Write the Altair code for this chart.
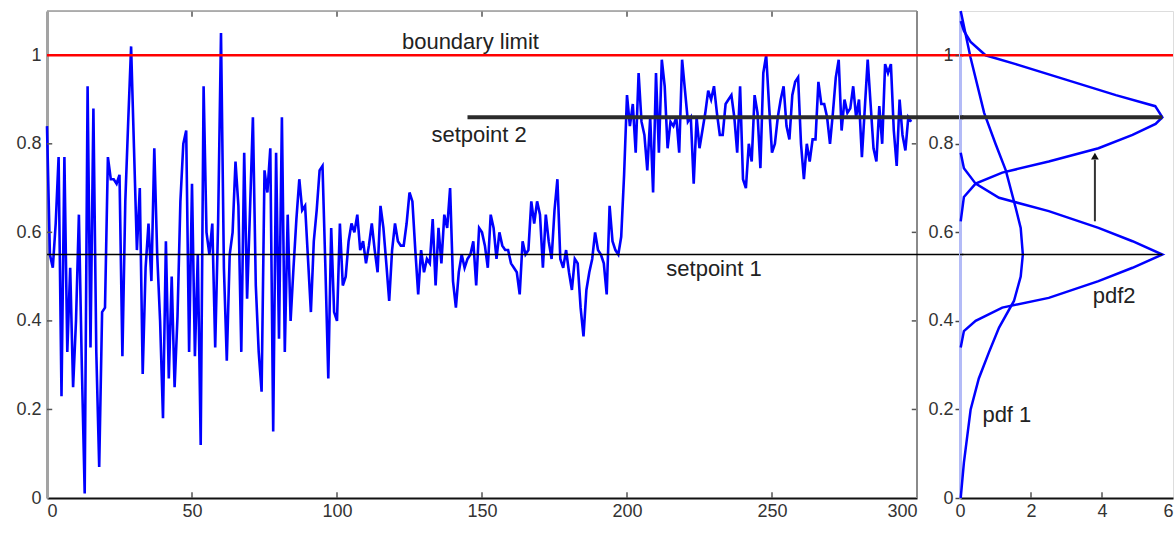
import altair as alt
import pandas as pd

# ---------------- data ----------------
SERIES = [
    0.84, 0.55, 0.52, 0.62, 0.77, 0.23, 0.77, 0.33, 0.52, 0.25,
    0.40, 0.64, 0.30, 0.01, 0.93, 0.34, 0.88, 0.33, 0.07, 0.42,
    0.43, 0.77, 0.72, 0.72, 0.71, 0.73, 0.32, 0.67, 0.85, 1.02,
    0.79, 0.56, 0.70, 0.28, 0.52, 0.62, 0.49, 0.79, 0.55, 0.40,
    0.18, 0.58, 0.27, 0.50, 0.25, 0.41, 0.67, 0.80, 0.83, 0.33,
    0.71, 0.32, 0.55, 0.12, 0.93, 0.60, 0.55, 0.62, 0.34, 0.62,
    1.05, 0.52, 0.31, 0.55, 0.60, 0.76, 0.66, 0.33, 0.78, 0.45,
    0.65, 0.86, 0.48, 0.33, 0.24, 0.74, 0.69, 0.79, 0.15, 0.78,
    0.36, 0.86, 0.33, 0.64, 0.40, 0.52, 0.63, 0.72, 0.65, 0.66,
    0.54, 0.42, 0.58, 0.65, 0.74, 0.75, 0.52, 0.27, 0.61, 0.42,
    0.40, 0.62, 0.48, 0.50, 0.58, 0.62, 0.60, 0.64, 0.56, 0.58,
    0.53, 0.57, 0.62, 0.56, 0.51, 0.66, 0.61, 0.53, 0.445, 0.56,
    0.62, 0.58, 0.57, 0.57, 0.62, 0.69, 0.67, 0.56, 0.46, 0.56,
    0.51, 0.54, 0.53, 0.63, 0.48, 0.61, 0.53, 0.64, 0.61, 0.70,
    0.49, 0.43, 0.51, 0.55, 0.52, 0.54, 0.55, 0.58, 0.48, 0.61,
    0.60, 0.57, 0.52, 0.64, 0.61, 0.54, 0.60, 0.57, 0.56, 0.56,
    0.53, 0.52, 0.51, 0.46, 0.58, 0.55, 0.56, 0.67, 0.62, 0.67,
    0.64, 0.52, 0.64, 0.58, 0.54, 0.65, 0.72, 0.54, 0.52, 0.56,
    0.51, 0.47, 0.54, 0.53, 0.43, 0.365, 0.47, 0.51, 0.54, 0.60,
    0.56, 0.55, 0.53, 0.46, 0.66, 0.58, 0.56, 0.55, 0.59, 0.73,
    0.91, 0.84, 0.89, 0.78, 0.96, 0.85, 0.82, 0.74, 0.86, 0.69,
    0.96, 0.78, 0.99, 0.93, 0.79, 0.85, 0.84, 0.86, 0.78, 0.99,
    0.92, 0.85, 0.86, 0.71, 0.86, 0.79, 0.83, 0.87, 0.92, 0.90,
    0.93, 0.87, 0.82, 0.82, 0.89, 0.90, 0.91, 0.86, 0.78, 0.93,
    0.72, 0.70, 0.80, 0.76, 0.91, 0.87, 0.745, 0.96, 1.00, 0.885,
    0.78, 0.80, 0.86, 0.90, 0.93, 0.84, 0.81, 0.91, 0.94, 0.95,
    0.80, 0.72, 0.80, 0.76, 0.81, 0.81, 0.94, 0.89, 0.89, 0.86,
    0.80, 0.87, 0.95, 0.99, 0.83, 0.90, 0.87, 0.88, 0.93, 0.86,
    0.90, 0.77, 0.88, 0.99, 0.89, 0.79, 0.76, 0.885, 0.80, 0.98,
    0.96, 0.98, 0.83, 0.75, 0.90, 0.82, 0.785, 0.86, 0.85,
]

# wide pdf (pdf 1) around setpoint 1
PDF1_X = [0.02, 0.11, 0.30, 0.53, 0.82, 1.10, 1.52, 1.71, 1.77, 1.71, 1.57, 1.29, 1.00, 0.68, 0.30, 0.16, 0.02]
PDF1_Y = [0.00, 0.08, 0.20, 0.27, 0.33, 0.385, 0.445, 0.50, 0.55, 0.61, 0.655, 0.74, 0.80, 0.87, 0.994, 1.047, 1.10]
# narrow pdf (pdf2) around setpoint 1
PDF2_X = [0.02, 0.11, 0.44, 1.19, 2.50, 3.90, 4.86, 5.70, 4.86, 3.90, 2.50, 1.10, 0.44, 0.11, 0.02]
PDF2_Y = [0.34, 0.377, 0.40, 0.43, 0.452, 0.49, 0.52, 0.55, 0.58, 0.61, 0.648, 0.678, 0.71, 0.745, 0.78]
# narrow pdf shifted to setpoint 2
PDF3_X = [0.02, 0.11, 0.44, 1.19, 2.50, 3.90, 4.86, 5.51, 5.70, 5.50, 4.39, 2.98, 1.57, 0.72, 0.30, 0.11, 0.02]
PDF3_Y = [0.625, 0.68, 0.71, 0.735, 0.76, 0.79, 0.82, 0.845, 0.86, 0.885, 0.91, 0.945, 0.98, 1.00, 1.03, 1.055, 1.077]

X_TICKS_LEFT = [0, 50, 100, 150, 200, 250, 300]
X_TICKS_RIGHT = [0, 2, 4, 6]
Y_TICKS = [0, 0.2, 0.4, 0.6, 0.8, 1]

BOUNDARY = 1.0
SETPOINT1 = 0.55
SETPOINT2 = 0.86
SETPOINT2_START = 145
PDF_PEAK = 5.7
ARROW_X = 3.8
ARROW_FROM = 0.625
ARROW_TO = 0.772

LEFT_NOTES = ["boundary limit", "setpoint 2", "setpoint 1"]
LEFT_NOTE_T = [146, 149, 230]
LEFT_NOTE_V = [1.03, 0.82, 0.517]
RIGHT_NOTES = ["pdf2", "pdf 1"]
RIGHT_NOTE_X = [4.34, 1.32]
RIGHT_NOTE_V = [0.456, 0.187]

# ---------------- styling ----------------
FONT = "Liberation Sans"
BLUE = "#0000ff"
RED = "#ff0000"
LABEL_COLOR = "#333333"

ys = alt.Scale(domain=[0, 1.1], nice=False, zero=False)
xs_left = alt.Scale(domain=[0, 300], nice=False, zero=False)
xs_right = alt.Scale(domain=[0, 6], nice=False, zero=False)

# ---------------- left panel ----------------
series_df = pd.DataFrame({"t": list(range(len(SERIES))), "v": SERIES})

left_x_axis = alt.Axis(values=X_TICKS_LEFT, title=None, grid=False, tickSize=0,
                       labelPadding=4, format="d", domainColor="#111111", domainWidth=2,
                       labelFontSize=18, labelFont=FONT, labelColor=LABEL_COLOR)
left_y_axis = alt.Axis(values=Y_TICKS, title=None, grid=False, tickSize=0,
                       labelPadding=6, format="~g", domainColor="#a3a3a3", domainWidth=3,
                       labelFontSize=18, labelFont=FONT, labelColor=LABEL_COLOR)

line = alt.Chart(series_df).mark_line(color=BLUE, strokeWidth=2.6).encode(
    x=alt.X("t:Q", scale=xs_left, axis=left_x_axis),
    y=alt.Y("v:Q", scale=ys, axis=left_y_axis),
)

xt_df = pd.DataFrame({"t": X_TICKS_LEFT[1:-1]})
yt_df = pd.DataFrame({"v": Y_TICKS[1:-1]})
tick_style = dict(color="#555555", strokeWidth=1.5)
ticks_bottom = alt.Chart(xt_df).mark_rule(**tick_style).encode(
    x="t:Q", y=alt.datum(0), y2=alt.datum(0.013))
ticks_top = alt.Chart(xt_df).mark_rule(**tick_style).encode(
    x="t:Q", y=alt.datum(1.1), y2=alt.datum(1.087))
ticks_left = alt.Chart(yt_df).mark_rule(**tick_style).encode(
    y="v:Q", x=alt.datum(0), x2=alt.datum(1.8))
ticks_right = alt.Chart(yt_df).mark_rule(**tick_style).encode(
    y="v:Q", x=alt.datum(298.2), x2=alt.datum(300))

frame_top = alt.Chart(pd.DataFrame({"v": [1.1]})).mark_rule(
    color="#9a9a9a", strokeWidth=1.5).encode(y="v:Q")
frame_right = alt.Chart(pd.DataFrame({"t": [300]})).mark_rule(
    color="#8a8a8a", strokeWidth=2).encode(x="t:Q")

red_left = alt.Chart(pd.DataFrame({"v": [BOUNDARY]})).mark_rule(
    color=RED, strokeWidth=2.5).encode(x=alt.datum(0), x2=alt.datum(316), y="v:Q")
sp1_left = alt.Chart(pd.DataFrame({"v": [SETPOINT1]})).mark_rule(
    color="#000000", strokeWidth=1.5).encode(x=alt.datum(0), x2=alt.datum(316), y="v:Q")
sp2_left = alt.Chart(pd.DataFrame({"v": [SETPOINT2]})).mark_rule(
    color="#2b2b2b", strokeWidth=4).encode(x=alt.datum(SETPOINT2_START), x2=alt.datum(316), y="v:Q")

left_notes_df = pd.DataFrame({"t": LEFT_NOTE_T, "v": LEFT_NOTE_V, "label": LEFT_NOTES})
left_notes = alt.Chart(left_notes_df).mark_text(
    font=FONT, fontSize=22, color="#222222", align="center", baseline="middle").encode(
    x="t:Q", y="v:Q", text="label:N")

left = alt.layer(
    line, ticks_bottom, ticks_top, ticks_left, ticks_right, frame_top, frame_right,
    red_left, sp1_left, sp2_left, left_notes,
).properties(width=870, height=487)

# ---------------- right panel ----------------
rows = []
for name, xs, vs in (("pdf1", PDF1_X, PDF1_Y), ("pdf2", PDF2_X, PDF2_Y), ("pdf2s", PDF3_X, PDF3_Y)):
    for i, (a, b) in enumerate(zip(xs, vs)):
        rows.append({"curve": name, "i": i, "x": a, "v": b})
pdf_df = pd.DataFrame(rows)

right_x_axis = alt.Axis(values=X_TICKS_RIGHT, title=None, grid=False, tickSize=0,
                        labelPadding=4, format="d", domainColor="#111111", domainWidth=2,
                        labelFontSize=18, labelFont=FONT, labelColor=LABEL_COLOR,
                        labelAlign=alt.condition("datum.value == 6", alt.value("right"), alt.value("center")))
right_y_axis = alt.Axis(values=Y_TICKS, title=None, grid=False, tickSize=5, tickColor="#444444",
                        tickWidth=1.5, labelPadding=2, format="~g", domainColor="#b3bbf7",
                        domainWidth=3, labelFontSize=18, labelFont=FONT, labelColor=LABEL_COLOR)

pdfs = alt.Chart(pdf_df).mark_line(color=BLUE, strokeWidth=2.5).encode(
    x=alt.X("x:Q", scale=xs_right, axis=right_x_axis),
    y=alt.Y("v:Q", scale=ys, axis=right_y_axis),
    detail="curve:N",
    order="i:Q",
)

xr_df = pd.DataFrame({"x": X_TICKS_RIGHT[1:-1]})
ticks_rb = alt.Chart(xr_df).mark_rule(**tick_style).encode(
    x="x:Q", y=alt.datum(0), y2=alt.datum(0.013))

red_right = alt.Chart(pd.DataFrame({"v": [BOUNDARY]})).mark_rule(
    color=RED, strokeWidth=2.5).encode(x=alt.datum(0), x2=alt.datum(6), y="v:Q")
sp1_right = alt.Chart(pd.DataFrame({"v": [SETPOINT1]})).mark_rule(
    color="#000000", strokeWidth=1.5).encode(x=alt.datum(0), x2=alt.datum(PDF_PEAK), y="v:Q")
sp2_right = alt.Chart(pd.DataFrame({"v": [SETPOINT2]})).mark_rule(
    color="#2b2b2b", strokeWidth=4).encode(x=alt.datum(0), x2=alt.datum(PDF_PEAK), y="v:Q")

arrow_df = pd.DataFrame({"x": [ARROW_X], "v": [ARROW_FROM], "v2": [ARROW_TO - 0.008]})
arrow_shaft = alt.Chart(arrow_df).mark_rule(color="#333333", strokeWidth=2).encode(
    x="x:Q", y="v:Q", y2="v2:Q")
arrow_head = alt.Chart(pd.DataFrame({"x": [ARROW_X], "v": [ARROW_TO]})).mark_point(
    shape="triangle-up", filled=True, size=60, color="#111111", opacity=1).encode(
    x="x:Q", y="v:Q")

right_notes_df = pd.DataFrame({"x": RIGHT_NOTE_X, "v": RIGHT_NOTE_V, "label": RIGHT_NOTES})
right_notes = alt.Chart(right_notes_df).mark_text(
    font=FONT, fontSize=22, color="#222222", align="center", baseline="middle").encode(
    x="x:Q", y="v:Q", text="label:N")

right = alt.layer(
    pdfs, ticks_rb, red_right, sp1_right, sp2_right, arrow_shaft, arrow_head, right_notes,
).properties(width=213, height=487)

chart = alt.hconcat(left, right, spacing=43, bounds="flush").properties(
    padding={"left": 15, "top": 5, "right": 0, "bottom": 0}
).configure_view(stroke=None).configure(background="white")

chart.save("out.html", embed_options={"renderer": "svg", "actions": False})
